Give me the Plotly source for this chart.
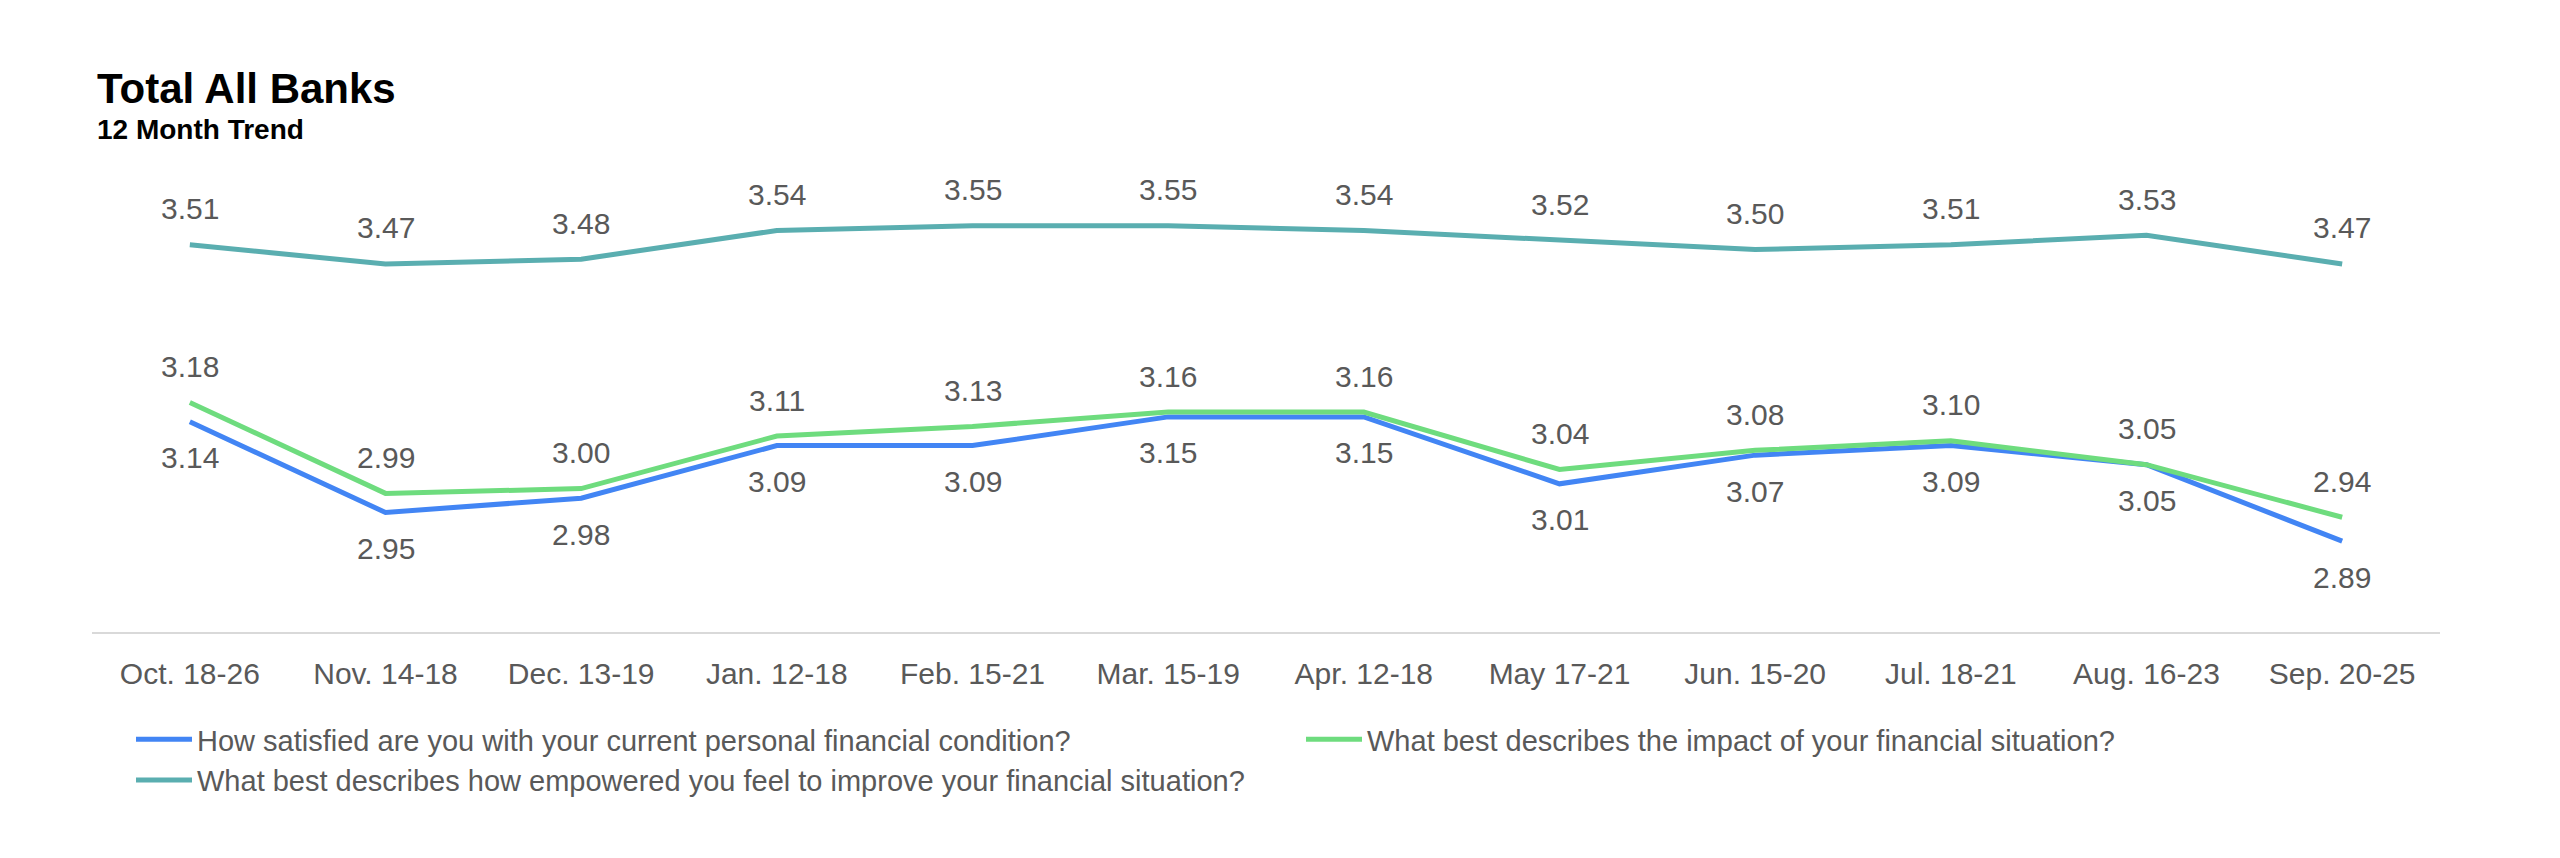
import plotly.graph_objects as go

categories = ["Oct. 18-26", "Nov. 14-18", "Dec. 13-19", "Jan. 12-18", "Feb. 15-21", "Mar. 15-19",
              "Apr. 12-18", "May 17-21", "Jun. 15-20", "Jul. 18-21", "Aug. 16-23", "Sep. 20-25"]
satisfied = [3.14, 2.95, 2.98, 3.09, 3.09, 3.15, 3.15, 3.01, 3.07, 3.09, 3.05, 2.89]
impact = [3.18, 2.99, 3.00, 3.11, 3.13, 3.16, 3.16, 3.04, 3.08, 3.10, 3.05, 2.94]
empowered = [3.51, 3.47, 3.48, 3.54, 3.55, 3.55, 3.54, 3.52, 3.50, 3.51, 3.53, 3.47]

names = ["How satisfied are you with your current personal financial condition?",
         "What best describes the impact of your financial situation?",
         "What best describes how empowered you feel to improve your financial situation?"]
colors = ["#4285f4", "#6edc7e", "#5aaeb0"]

FONT = "Arial, Liberation Sans, sans-serif"
GRAY = "#595959"

fig = go.Figure()
for vals, name, col in zip([satisfied, impact, empowered], names, colors):
    fig.add_trace(go.Scatter(x=categories, y=vals, mode="lines", name=name,
                             line=dict(color=col, width=5), hoverinfo="skip"))

annotations = []
for vals, shift in [(satisfied, -36), (impact, 36), (empowered, 36)]:
    for c, v in zip(categories, vals):
        annotations.append(dict(x=c, y=v, xref="x", yref="y", text=f"{v:.2f}",
                                showarrow=False, yshift=shift, xanchor="center", yanchor="middle",
                                font=dict(family=FONT, size=30, color=GRAY)))

annotations.append(dict(x=3 / 2348, y=1.138, xref="paper", yref="paper", text="<b>Total All Banks</b>",
                        showarrow=False, xanchor="left", yanchor="middle",
                        font=dict(family=FONT, size=42, color="#000000")))
annotations.append(dict(x=3 / 2348, y=1.052, xref="paper", yref="paper", text="<b>12 Month Trend</b>",
                        showarrow=False, xanchor="left", yanchor="middle",
                        font=dict(family=FONT, size=28, color="#000000")))

fig.update_layout(
    width=2560, height=858,
    margin=dict(l=92, r=120, t=154, b=226),
    paper_bgcolor="white", plot_bgcolor="white",
    font=dict(family=FONT, color=GRAY),
    annotations=annotations,
    showlegend=True,
    legend=dict(orientation="h", xref="container", yref="container",
                x=131 / 2560, y=1 - 714 / 858, xanchor="left", yanchor="top",
                entrywidth=1099, entrywidthmode="pixels", itemwidth=56,
                font=dict(family=FONT, size=29, color=GRAY), traceorder="normal"),
    xaxis=dict(showline=True, linecolor="#d9d9d9", linewidth=2, showgrid=False, zeroline=False,
               ticks="", tickfont=dict(family=FONT, size=30, color=GRAY), ticklabelstandoff=14,
               range=[-0.5, 11.5], fixedrange=True),
    yaxis=dict(range=[2.7, 3.7], showgrid=False, zeroline=False, showticklabels=False,
               showline=False, fixedrange=True),
)

fig.write_html("out.html")
